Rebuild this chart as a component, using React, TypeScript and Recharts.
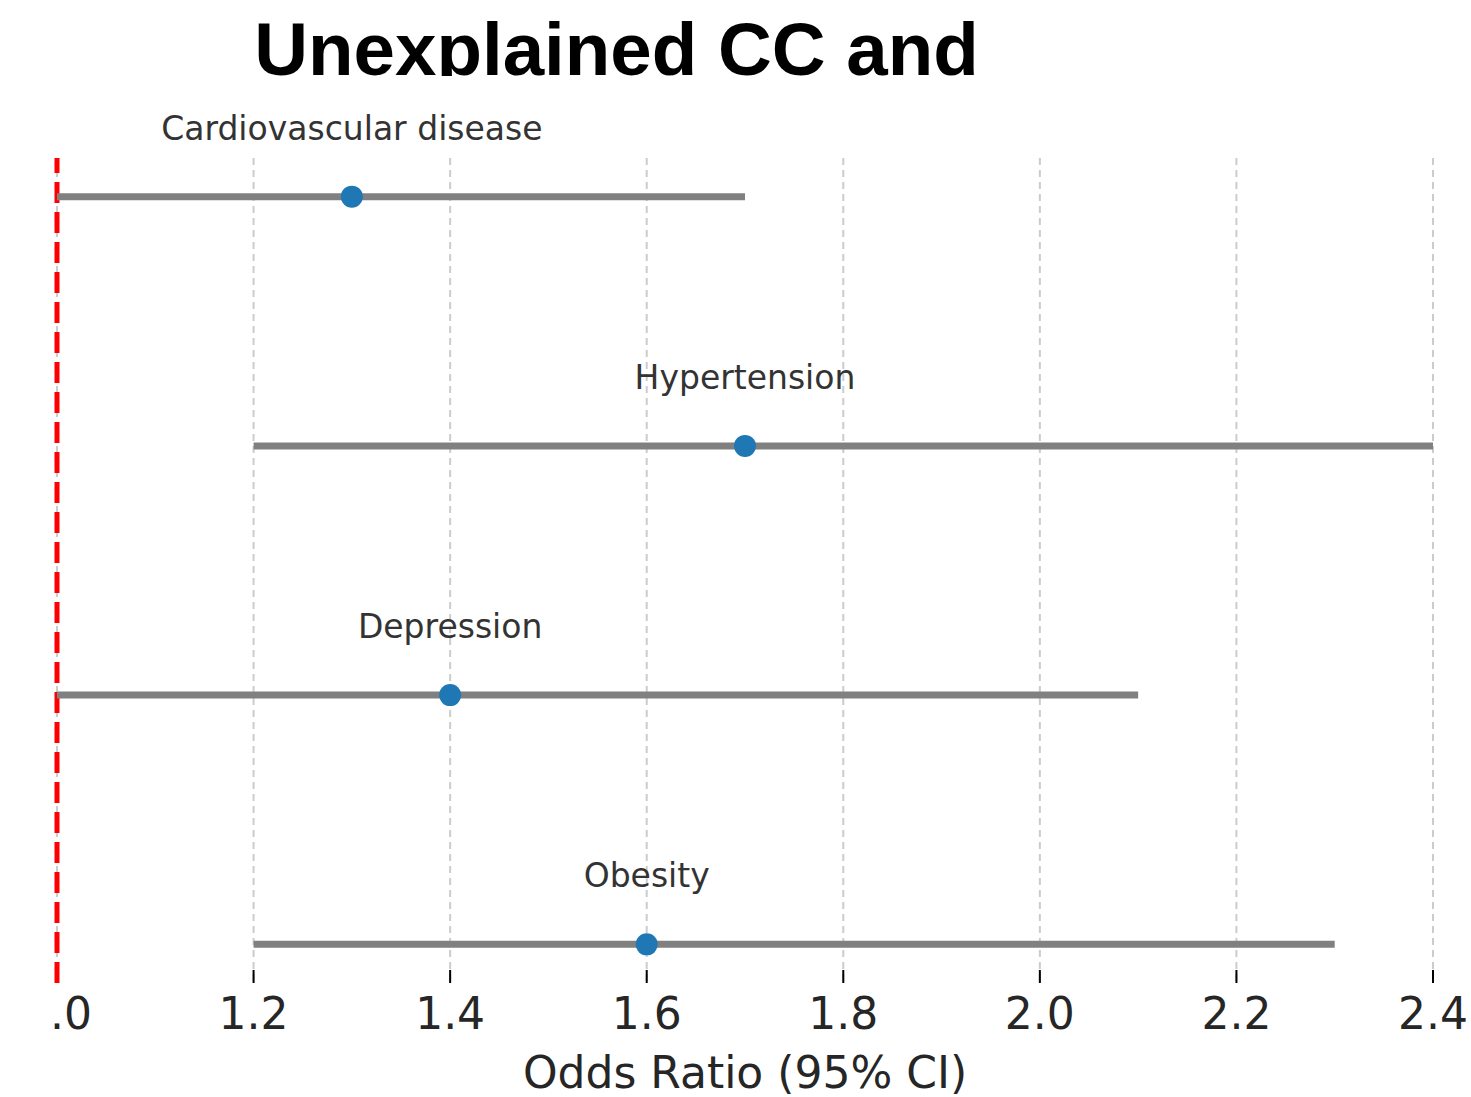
import React from 'react';
import { ScatterChart, Scatter, XAxis, YAxis, CartesianGrid, ReferenceLine, ErrorBar } from 'recharts';

const categories = ['Cardiovascular disease', 'Hypertension', 'Depression', 'Obesity'];
const oddsRatios = [1.3, 1.7, 1.4, 1.6];
const ciLower = [1.0, 1.2, 1.0, 1.2];
const ciUpper = [1.7, 2.4, 2.1, 2.3];
const xTicks = [1.0, 1.2, 1.4, 1.6, 1.8, 2.0, 2.2, 2.4];
const xTickLabels = ['1.0', '1.2', '1.4', '1.6', '1.8', '2.0', '2.2', '2.4'];
const titleText = 'Unexplained CC and';
const xLabel = 'Odds Ratio (95% CI)';

const data = categories.map((name, i) => ({
  name,
  x: oddsRatios[i],
  y: i,
  err: [oddsRatios[i] - ciLower[i], ciUpper[i] - oddsRatios[i]],
}));

const FONT = "'DejaVu Sans', 'Noto Sans', sans-serif";

const Tick = (props: any) => {
  const { x, y, payload, index } = props;
  const id = `tclip-${index}`;
  return (
    <g>
      <defs>
        <clipPath id={id}>
          <rect x={50} y={0} width={1500} height={1200} />
        </clipPath>
      </defs>
      {payload.value !== 1.0 && (
        <line x1={x} x2={x} y1={y - 13} y2={y} stroke="#000" strokeWidth={2} />
      )}
      <text
        x={x}
        y={y + 46}
        textAnchor="middle"
        fontSize={44}
        fontFamily={FONT}
        fill="#262626"
        clipPath={`url(#${id})`}
      >
        {xTickLabels[xTicks.indexOf(payload.value)] ?? String(payload.value)}
      </text>
    </g>
  );
};

const Dot = (props: any) => {
  const { cx, cy, payload } = props;
  return (
    <g>
      <circle cx={cx} cy={cy} r={11} fill="#1f77b4" />
      <text
        x={cx}
        y={cy - 57}
        textAnchor="middle"
        fontSize={33}
        fontFamily={FONT}
        fill="#333333"
      >
        {payload.name}
      </text>
    </g>
  );
};

export default function App() {
  return (
    <div style={{ position: 'absolute', left: 0, top: 0, width: 1471, height: 1097, background: '#fff', overflow: 'hidden' }}>
      <ScatterChart width={1471} height={1097} margin={{ top: 158, right: 38, left: 57, bottom: 0 }}>
        <CartesianGrid horizontal={false} stroke="#cccccc" strokeDasharray="7 5" strokeWidth={2} />
        <XAxis
          type="number"
          dataKey="x"
          domain={[1.0, 2.4]}
          ticks={xTicks}
          interval={0}
          axisLine={false}
          tickLine={false}
          tickSize={0}
          tickMargin={0}
          height={114}
          tick={<Tick />}
          label={{
            value: xLabel,
            position: 'insideBottom',
            offset: 9,
            style: { fontSize: 44, fontFamily: FONT, fill: '#262626' },
          }}
        />
        <YAxis type="number" dataKey="y" domain={[-0.155, 3.155]} reversed hide width={0} />
        <ReferenceLine x={1.0} stroke="#ff0000" strokeWidth={5} strokeDasharray="21 9" />
        <Scatter data={data} isAnimationActive={false} shape={<Dot />}>
          <ErrorBar dataKey="err" direction="x" width={0} stroke="#808080" strokeWidth={7} isAnimationActive={false} />
        </Scatter>
      </ScatterChart>
      <svg width={1471} height={76} style={{ position: 'absolute', left: 0, top: 0 }}>
        <text
          x={616.5}
          y={75}
          textAnchor="middle"
          fontSize={74.5}
          fontWeight="bold"
          fontFamily="'Liberation Sans', Arial, Helvetica, sans-serif"
          fill="#000"
        >
          {titleText}
        </text>
      </svg>
    </div>
  );
}
